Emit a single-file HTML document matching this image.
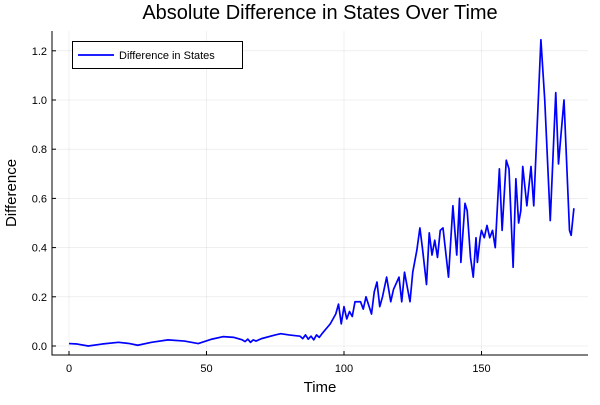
<!DOCTYPE html>
<html><head><meta charset="utf-8"><style>
body{margin:0;background:#fff}
svg{font-family:"Liberation Sans",sans-serif}
</style></head><body>
<svg id="c" width="600" height="400"></svg>
<script>
const xs=[0,3,7,12,18,22,25,30,36,42,47,52,56,60,63,64,65,66,67,68,70,75,77,80,84,85,86,87,88,89,90,91,92,95,97,98,99,100,101,102,103,104,106,107,108,110,111,112,113,114,115.5,117,118,120,121,122,124,125,126.5,127.6,128.5,130,131,132,133,134,135,136,137,138,139.6,141,142,142.5,144,144.8,146,147,148,148.5,149.5,150,151,152,153,154,155,156.5,157.5,159,160,161.5,162.5,163.5,164.3,165,166.5,168,169,171.6,173,175,177,178,178.6,180,182,182.6,183.6];
const ys=[0.01,0.008,0.0,0.008,0.015,0.01,0.003,0.015,0.025,0.02,0.01,0.028,0.038,0.035,0.025,0.018,0.028,0.015,0.025,0.02,0.03,0.045,0.05,0.045,0.04,0.03,0.045,0.028,0.04,0.025,0.045,0.035,0.05,0.09,0.13,0.17,0.09,0.16,0.11,0.14,0.12,0.18,0.18,0.15,0.2,0.13,0.22,0.26,0.16,0.2,0.28,0.18,0.23,0.28,0.18,0.3,0.18,0.3,0.39,0.48,0.4,0.25,0.46,0.37,0.43,0.36,0.47,0.48,0.38,0.28,0.57,0.37,0.6,0.34,0.58,0.55,0.36,0.28,0.44,0.34,0.44,0.47,0.44,0.49,0.44,0.47,0.4,0.72,0.47,0.755,0.72,0.32,0.68,0.5,0.55,0.73,0.57,0.73,0.57,1.245,1.0,0.51,1.03,0.74,0.82,1.0,0.47,0.45,0.56];
const xTicks=[0,50,100,150];
const yTicks=[0,0.2,0.4,0.6,0.8,1.0,1.2];
const yLabels=["0.0","0.2","0.4","0.6","0.8","1.0","1.2"];
const L=52,R=588,T=31,B=355;
const sx=v=>69+v*2.75;
const sy=v=>346-v*246;
const svg=document.getElementById('c');
const NS='http://www.w3.org/2000/svg';
function mk(t,a,p){const e=document.createElementNS(NS,t);for(const k in a)e.setAttribute(k,a[k]);(p||svg).appendChild(e);return e;}
xTicks.forEach(v=>{
 const g=mk('line',{x1:sx(v),x2:sx(v),y1:T,y2:B,stroke:'#000','stroke-opacity':0.1,'stroke-width':0.6});
 
 
 const t=mk('text',{x:sx(v),y:372,'text-anchor':'middle','font-size':11,fill:'#000'});t.textContent=v;
 
 
 mk('line',{x1:sx(v),x2:sx(v),y1:B,y2:B-4,stroke:'#000'});
});
yTicks.forEach((v,i)=>{
 const g=mk('line',{x1:L,x2:R,y1:sy(v),y2:sy(v),stroke:'#000','stroke-opacity':0.1,'stroke-width':0.6});
 
 
 const t=mk('text',{x:47,y:sy(v)+4,'text-anchor':'end','font-size':11,fill:'#000'});t.textContent=yLabels[i];
 
 
 mk('line',{x1:L,x2:L+4,y1:sy(v),y2:sy(v),stroke:'#000'});
});
const ax=mk('path',{d:`M${L},${T}V${B}H${R}`,fill:'none',stroke:'#000','stroke-width':1});


const line=mk('polyline',{points:xs.map((x,i)=>sx(x)+','+sy(ys[i])).join(' '),fill:'none',stroke:'#0000ff','stroke-width':1.7,'stroke-linejoin':'round'});


const ti=mk('text',{x:320,y:19,'text-anchor':'middle','font-size':20});ti.textContent='Absolute Difference in States Over Time';


const xt=mk('text',{x:320,y:392,'text-anchor':'middle','font-size':15});xt.textContent='Time';


const yt=mk('text',{x:16,y:193,'text-anchor':'middle','font-size':15,transform:'rotate(-90 16 193)'});yt.textContent='Difference';


const lg=mk('g',{});


mk('rect',{x:72.5,y:41.5,width:170,height:27,fill:'#fff',stroke:'#000','stroke-width':1},lg);
mk('line',{x1:78,x2:114,y1:55,y2:55,stroke:'#0000ff','stroke-width':1.7},lg);
const lt=mk('text',{x:119,y:59,'font-size':11},lg);lt.textContent='Difference in States';


</script>
</body></html>
